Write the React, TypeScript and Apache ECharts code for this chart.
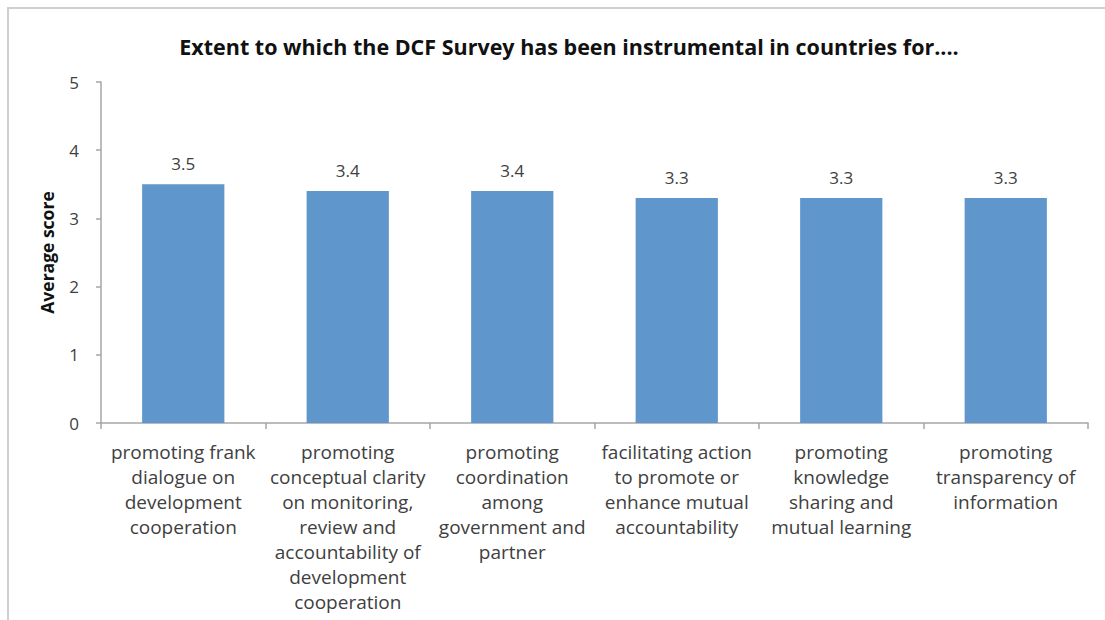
import React, { useEffect, useRef } from "react";
import * as echarts from "echarts";

const categories = [
  "promoting frank\ndialogue on\ndevelopment\ncooperation",
  "promoting\nconceptual clarity\non monitoring,\nreview and\naccountability of\ndevelopment\ncooperation",
  "promoting\ncoordination\namong\ngovernment and\npartner",
  "facilitating action\nto promote or\nenhance mutual\naccountability",
  "promoting\nknowledge\nsharing and\nmutual learning",
  "promoting\ntransparency of\ninformation",
];
const values = [3.5, 3.4, 3.4, 3.3, 3.3, 3.3];
const titleText = "Extent to which the DCF Survey has been instrumental in countries for....";
const yAxisName = "Average score";

export default function App() {
  const ref = useRef<HTMLDivElement>(null);
  useEffect(() => {
    if (!ref.current) return;
    const chart = echarts.init(ref.current, null, { renderer: "svg" });
    const font = "'Open Sans', sans-serif";
    chart.setOption({
      animation: false,
      backgroundColor: "#ffffff",
      title: {
        text: titleText,
        left: 564,
        textAlign: "center",
        top: 30,
        textStyle: { fontFamily: font, fontWeight: "bold", fontSize: 21.5, color: "#111" },
      },
      graphic: [
        {
          type: "rect",
          shape: { x: 8, y: 8, width: 1200, height: 700 },
          style: { fill: "none", stroke: "#cfcfcf", lineWidth: 2 },
          silent: true,
        },
      ],
      grid: { left: 101, right: 17, top: 82, bottom: 197, containLabel: false },
      xAxis: {
        type: "category",
        data: categories,
        axisLine: { lineStyle: { color: "#a6a6a6", width: 1.5 } },
        axisTick: { show: true, length: 6, lineStyle: { color: "#a6a6a6", width: 1.5 } },
        axisLabel: {
          interval: 0,
          fontFamily: font,
          fontSize: 19,
          color: "#404040",
          lineHeight: 25,
          margin: 16,
          align: "center",
        },
      },
      yAxis: {
        type: "value",
        min: 0,
        max: 5,
        interval: 1,
        name: yAxisName,
        nameLocation: "middle",
        nameGap: 45,
        nameTextStyle: { fontFamily: font, fontWeight: "bold", fontSize: 17.5, color: "#111" },
        axisLine: { show: true, lineStyle: { color: "#a6a6a6", width: 1.5 } },
        axisTick: { show: true, length: 5, lineStyle: { color: "#a6a6a6", width: 1.5 } },
        splitLine: { show: false },
        axisLabel: { fontFamily: font, fontSize: 17, color: "#404040", margin: 22 },
      },
      series: [
        {
          type: "bar",
          data: values,
          barWidth: "50%",
          itemStyle: { color: "#5f96cc" },
          label: {
            show: true,
            position: "top",
            distance: 12,
            fontFamily: font,
            fontSize: 17,
            color: "#404040",
            formatter: (p: any) => p.value.toFixed(1),
          },
        },
      ],
    });
    return () => chart.dispose();
  }, []);
  return (
    <div
      ref={ref}
      style={{ position: "absolute", left: 0, top: 0, width: 1105, height: 620 }}
    />
  );
}
